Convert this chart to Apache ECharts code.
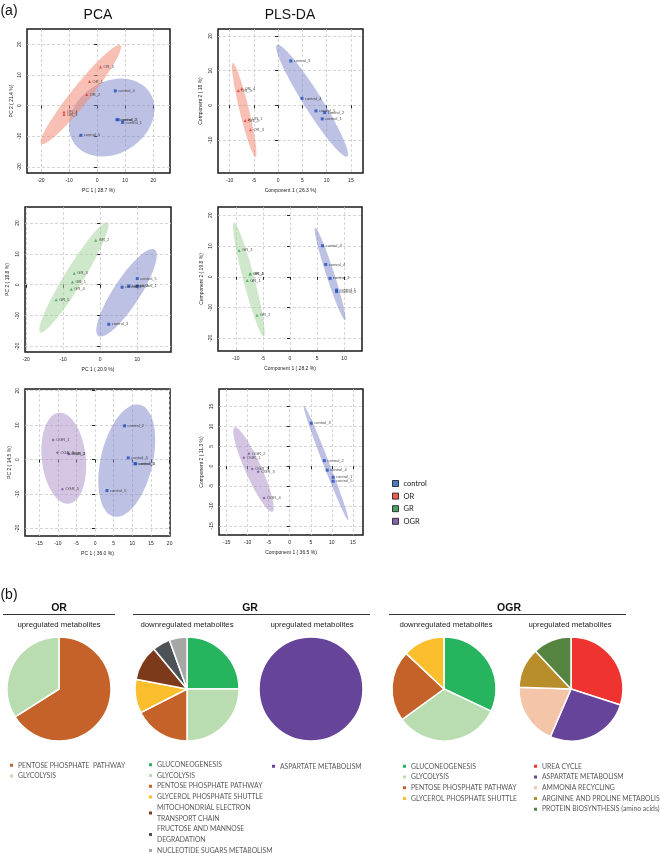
<!DOCTYPE html>
<html><head><meta charset="utf-8">
<script src="https://cdn.jsdelivr.net/npm/echarts@6/dist/echarts.min.js"></script>
<style>html,body{margin:0;padding:0;background:#fff}#c{width:660px;height:854px}</style>
</head><body><div id="c"></div>
<script>
// ===== (a) score plots: [x, y, label] =====
const pca1Control = [[9.1,-5.5,'control_1'],[7.1,-4.6,'control_2'],[7.5,-4.6,'control_3'],[6.5,4.8,'control_4'],[-5.8,-9.7,'control_5']];
const pca1OR = [[-2.7,7.9,'OR_1'],[-3.7,3.6,'OR_2'],[-11.8,-2.9,'OR_3'],[-11.8,-2.1,'OR_4'],[1.2,12.6,'OR_5']];
const pls1Control = [[9.1,-3.9,'control_1'],[9.6,-2.1,'control_2'],[2.6,12.8,'control_3'],[4.9,2.0,'control_4'],[7.8,-1.6,'control_5']];
const pls1OR = [[-6.0,-4.0,'OR_1'],[-6.8,-4.4,'OR_2'],[-5.7,-7.0,'OR_3'],[-7.5,4.8,'OR_4'],[-8.2,4.3,'OR_5']];
const pca2Control = [[10.0,-0.5,'control_1'],[7.7,-0.4,'control_2'],[2.3,-12.8,'control_3'],[5.9,-0.8,'control_4'],[10.0,2.0,'control_5']];
const pca2GR = [[-7.5,0.9,'GR_1'],[-1.2,14.4,'GR_2'],[-7.0,3.7,'GR_3'],[-7.8,-1.5,'GR_4'],[-11.9,-4.9,'GR_5']];
const pls2Control = [[8.6,-4.3,'control_1'],[7.4,-0.5,'control_2'],[6.0,10.1,'control_3'],[6.6,4.0,'control_4'],[8.6,-4.8,'control_5']];
const pls2GR = [[-7.9,-1.2,'GR_1'],[-6.1,-12.5,'GR_2'],[-9.4,8.6,'GR_3'],[-7.4,0.9,'GR_4'],[-7.3,1.0,'GR_5']];
const pca3Control = [[10.7,-1.2,'control_1'],[7.9,9.8,'control_2'],[10.9,-1.2,'control_3'],[8.9,0.5,'control_4'],[3.2,-9.0,'control_5']];
const pca3OGR = [[-11.25,5.7,'OGR_1'],[-7.2,1.7,'OGR_2'],[-10.1,2.0,'OGR_3'],[-7.0,1.6,'OGR_4'],[-8.75,-8.6,'OGR_5']];
const pls3Control = [[10.3,-2.8,'control_1'],[8.2,1.4,'control_2'],[5.1,10.8,'control_3'],[8.9,-1.0,'control_4'],[10.3,-3.8,'control_5']];
const pls3OGR = [[-10.9,2.1,'OGR_1'],[-9.7,3.1,'OGR_2'],[-7.5,-1.4,'OGR_3'],[-6.1,-8.0,'OGR_4'],[-8.9,-0.7,'OGR_5']];

// confidence ellipses: [centerX, centerY, axis1X, axis1Y, axis2X, axis2Y] in data units
const pca1EllControl = [5.2,-3.9,13.6,8.1,6.9,-9.8];
const pca1EllOR = [-5.8,3.6,14.1,16.1,2.58,-1.9];
const pls1EllControl = [7.0,1.35,-7.24,16.1,1.58,1.38];
const pls1EllOR = [-7.0,-1.3,-2.34,13.5,0.94,0.32];
const pca2EllControl = [7.1,-2.6,7.57,14.0,3.03,-2.33];
const pca2EllGR = [-7.1,2.4,9.1,17.8,2.15,-1.57];
const pls2EllControl = [7.4,1.0,-2.76,15.0,0.7,0.4];
const pls2EllGR = [-7.6,-0.87,-2.76,18.5,1.0,0.48];
const pca3EllControl = [8.5,-0.3,3.48,16.25,6.79,-1.68];
const pca3EllOGR = [-8.4,0.4,-1.34,13.2,5.86,0.69];
const pls3EllControl = [8.6,0.85,-5.28,14.4,0.67,0.27];
const pls3EllOGR = [-8.6,-0.85,-4.48,10.6,1.75,0.83];

// tick labels
const ticksPca1X = [-20,-10,0,10,20], ticksPca1Y = [-20,-10,0,10,20];
const ticksPls1X = [-10,-5,0,5,10,15], ticksPls1Y = [-10,0,10,20];
const ticksPca2X = [-20,-10,0,10], ticksPca2Y = [-20,-10,0,10,20];
const ticksPls2X = [-10,-5,0,5,10], ticksPls2Y = [-20,-10,0,10,20];
const ticksPca3X = [-15,-10,-5,0,5,10,15,20], ticksPca3Y = [-20,-10,0,10,20];
const ticksPls3X = [-15,-10,-5,0,5,10,15], ticksPls3Y = [-15,-10,-5,0,5,10,15];

const xTitles = ['PC 1 ( 28.7 %)','Component 1 ( 26.3 %)','PC 1 ( 20.9 %)','Component 1 ( 28.2 %)','PC 1 ( 36.0 %)','Component 1 ( 36.5 %)'];
const yTitles = ['PC 2 ( 21.4 %)','Component 2 ( 18 %)','PC 2 ( 18.8 %)','Component 2 ( 19.8 %)','PC 2 ( 14.5 %)','Component 2 ( 11.3 %)'];
const groupNames = ['control','OR','GR','OGR'];

// ===== (b) pathway pies =====
const orUpNames = ['PENTOSE PHOSPHATE  PATHWAY','GLYCOLYSIS'];
const orUpValues = [66,34];
const grDownNames = ['GLUCONEOGENESIS','GLYCOLYSIS','PENTOSE PHOSPHATE PATHWAY','GLYCEROL PHOSPHATE SHUTTLE','MITOCHONDRIAL ELECTRON\nTRANSPORT CHAIN','FRUCTOSE AND MANNOSE\nDEGRADATION','NUCLEOTIDE SUGARS METABOLISM'];
const grDownValues = [25,25,17.5,10.5,11,5.5,5.5];
const grUpNames = ['ASPARTATE METABOLISM'];
const grUpValues = [100];
const ogrDownNames = ['GLUCONEOGENESIS','GLYCOLYSIS','PENTOSE PHOSPHATE PATHWAY','GLYCEROL PHOSPHATE SHUTTLE'];
const ogrDownValues = [32,33,22,13];
const ogrUpNames = ['UREA CYCLE','ASPARTATE METABOLISM','AMMONIA RECYCLING','ARGININE AND PROLINE METABOLISM','PROTEIN BIOSYNTHESIS (amino acids)'];
const ogrUpValues = [30,26.5,19,12.5,12];

// ===== styling =====
const pathwayColors = {
  'PENTOSE PHOSPHATE  PATHWAY':'#c4622a','PENTOSE PHOSPHATE PATHWAY':'#c4622a','GLYCOLYSIS':'#b9ddb1',
  'GLUCONEOGENESIS':'#27b45f','GLYCEROL PHOSPHATE SHUTTLE':'#fbbf2d',
  'MITOCHONDRIAL ELECTRON\nTRANSPORT CHAIN':'#7d3a1a','FRUCTOSE AND MANNOSE\nDEGRADATION':'#4d5256',
  'NUCLEOTIDE SUGARS METABOLISM':'#a6a6a6','ASPARTATE METABOLISM':'#65449a','UREA CYCLE':'#ef3331',
  'AMMONIA RECYCLING':'#f4c5a8','ARGININE AND PROLINE METABOLISM':'#b88e2b','PROTEIN BIOSYNTHESIS (amino acids)':'#548440'
};
const pointColors = {control:'#1f4fbf', OR:'#e8312f', GR:'#35a84f', OGR:'#7a4ea0'};
const pointSymbols = {control:'rect', OR:'triangle', GR:'triangle', OGR:'diamond'};
const ellColors = {control:'rgba(118,126,196,0.48)', OR:'rgba(242,140,118,0.55)', GR:'rgba(160,208,150,0.5)', OGR:'rgba(170,140,200,0.5)'};
const legendColors = {control:'#1e5bb5', OR:'#e8352c', GR:'#1a8a3c', OGR:'#6a3d9a'};

const panels = [
  {grid:{left:27,top:29,width:143,height:144}, x:[-25,26], y:[-22,25], xt:ticksPca1X, yt:ticksPca1Y, g:'OR', c:pca1Control, t:pca1OR, ec:pca1EllControl, et:pca1EllOR, yGap:13},
  {grid:{left:218,top:29,width:145,height:144}, x:[-12.4,17.5], y:[-19.5,22], xt:ticksPls1X, yt:ticksPls1Y, g:'OR', c:pls1Control, t:pls1OR, ec:pls1EllControl, et:pls1EllOR, yGap:15},
  {grid:{left:25,top:207,width:146,height:145}, x:[-20.3,19.1], y:[-21.8,25.2], xt:ticksPca2X, yt:ticksPca2Y, g:'GR', c:pca2Control, t:pca2GR, ec:pca2EllControl, et:pca2EllGR, yGap:15},
  {grid:{left:218,top:207,width:144,height:144}, x:[-13.3,13.3], y:[-24.1,22.7], xt:ticksPls2X, yt:ticksPls2Y, g:'GR', c:pls2Control, t:pls2GR, ec:pls2EllControl, et:pls2EllGR, yGap:13.5},
  {grid:{left:25,top:389,width:145,height:147}, x:[-18.8,20.1], y:[-22.2,20.5], xt:ticksPca3X, yt:ticksPca3Y, g:'OGR', c:pca3Control, t:pca3OGR, ec:pca3EllControl, et:pca3EllOGR, yGap:12.5},
  {grid:{left:219,top:389,width:144,height:146}, x:[-16.8,17.4], y:[-17.3,19.4], xt:ticksPls3X, yt:ticksPls3Y, g:'OGR', c:pls3Control, t:pls3OGR, ec:pls3EllControl, et:pls3EllOGR, yGap:14.5}
];

const FONT = '"Liberation Sans", Arial, sans-serif';
const LFONT = 'Lato, "Open Sans", sans-serif';

function ellipseItem(params, api) {
  const cx = api.value(0), cy = api.value(1), ax = api.value(2), ay = api.value(3), bx = api.value(4), by = api.value(5);
  const pts = [];
  for (let k = 0; k < 96; k++) {
    const t = 2 * Math.PI * k / 96;
    pts.push(api.coord([cx + ax * Math.cos(t) + bx * Math.sin(t), cy + ay * Math.cos(t) + by * Math.sin(t)]));
  }
  return {type:'polygon', shape:{points:pts}, style:{fill: api.visual('color')}};
}

const grids = [], xAxes = [], yAxes = [], series = [];
panels.forEach((p, i) => {
  grids.push(Object.assign({show:true, borderColor:'#1a1a1a', borderWidth:1.5, backgroundColor:'#fff'}, p.grid));
  const common = {
    gridIndex:i, type:'value', axisLine:{show:false},
    nameTextStyle:{fontSize:5, color:'#222', fontFamily:FONT},
    splitLine:{show:true, lineStyle:{type:[3,2], color:'#cccccc', width:0.8}}
  };
  xAxes.push(Object.assign({}, common, {
    min:p.x[0], max:p.x[1], name:xTitles[i], nameLocation:'middle', nameGap:15.5,
    axisTick:{show:true, length:3, lineStyle:{color:'#222'}, customValues:p.xt},
    axisLabel:{fontSize:5, color:'#222', fontFamily:FONT, margin:5, customValues:p.xt}
  }));
  yAxes.push(Object.assign({}, common, {
    min:p.y[0], max:p.y[1], name:yTitles[i], nameLocation:'middle', nameGap:p.yGap,
    axisTick:{show:true, length:3, lineStyle:{color:'#222'}, customValues:p.yt},
    axisLabel:{fontSize:5, color:'#222', fontFamily:FONT, margin:4.5, rotate:90, customValues:p.yt}
  }));
  [['control', p.ec], [p.g, p.et]].forEach(([g, e]) => {
    series.push({type:'custom', name:g+' ellipse', xAxisIndex:i, yAxisIndex:i, renderItem:ellipseItem,
      itemStyle:{color:ellColors[g]}, encode:{x:0, y:1}, data:[e], z:1, silent:true});
  });
  [['control', p.c], [p.g, p.t]].forEach(([g, d]) => {
    series.push({type:'scatter', name:g, xAxisIndex:i, yAxisIndex:i, data:d, z:3,
      symbol:pointSymbols[g], symbolSize:3, itemStyle:{color:pointColors[g]},
      label:{show:true, position:'right', distance:1.5, fontSize:4, color:'#222', fontFamily:FONT,
        formatter:(q) => q.value[2]}});
  });
});

function pieSeries(name, center, names, values) {
  return {type:'pie', name, center, radius:52, startAngle:90, clockwise:true,
    label:{show:false}, labelLine:{show:false}, silent:true,
    itemStyle:{borderColor:'#fff', borderWidth:1.5},
    data:names.map((n, k) => ({name:n, value:values[k], itemStyle:{color:pathwayColors[n]}}))};
}
series.push(pieSeries('OR up', [59, 689], orUpNames, orUpValues));
series.push(pieSeries('GR down', [187, 689], grDownNames, grDownValues));
series.push(pieSeries('GR up', [311, 689], grUpNames, grUpValues));
series.push(pieSeries('OGR down', [444, 689], ogrDownNames, ogrDownValues));
series.push(pieSeries('OGR up', [571, 689], ogrUpNames, ogrUpValues));

function pieLegend(names, left, top) {
  return {data:names, left, top, height:120, orient:'vertical', icon:'rect', itemWidth:5, itemHeight:5, itemGap:0,
    selectedMode:false, padding:0,
    textStyle:{fontSize:6.8, color:'#595959', fontFamily:LFONT, lineHeight:10.7, padding:[0,0,0,-1]}};
}

const legends = [
  {data:groupNames.map(g => ({name:g, itemStyle:{color:legendColors[g], borderColor:'#111', borderWidth:1}})),
   left:392, top:479, orient:'vertical', icon:'rect', itemWidth:6, itemHeight:6, itemGap:3.6, padding:0,
   selectedMode:false, textStyle:{fontSize:7.5, color:'#222', fontFamily:LFONT, lineHeight:9}},
  pieLegend(orUpNames, 8, 760),
  pieLegend(grDownNames, 147, 759.5),
  pieLegend(grUpNames, 270, 761),
  pieLegend(ogrDownNames, 401, 761),
  pieLegend(ogrUpNames, 532, 761)
];

const txt = (x, y, s, size, opts) => ({type:'text', x, y, silent:true,
  style:Object.assign({text:s, fontSize:size, fontFamily:FONT, fill:'#111', textAlign:'center', textVerticalAlign:'middle'}, opts || {})});
const hline = (x1, x2, y) => ({type:'line', silent:true, shape:{x1, y1:y, x2, y2:y}, style:{stroke:'#333', lineWidth:1}});

const graphics = [
  txt(9, 11, '(a)', 14),
  txt(98, 15, 'PCA', 14),
  txt(290, 15, 'PLS-DA', 14),
  txt(9, 595, '(b)', 14),
  txt(59, 608, 'OR', 10.5, {fontWeight:'bold'}),
  txt(250, 608, 'GR', 10.5, {fontWeight:'bold'}),
  txt(509, 608, 'OGR', 10.5, {fontWeight:'bold'}),
  hline(3, 115, 614.5), hline(133, 370, 614.5), hline(389, 626, 614.5),
  txt(59, 625, 'upregulated metabolites', 7.8, {fill:'#222'}),
  txt(187, 625, 'downregulated metabolites', 7.8, {fill:'#222'}),
  txt(312, 625, 'upregulated metabolites', 7.8, {fill:'#222'}),
  txt(446, 625, 'downregulated metabolites', 7.8, {fill:'#222'}),
  txt(570, 625, 'upregulated metabolites', 7.8, {fill:'#222'})
];

const chart = echarts.init(document.getElementById('c'), null, {renderer:'canvas'});
chart.setOption({
  animation:false,
  backgroundColor:'#fff',
  grid:grids, xAxis:xAxes, yAxis:yAxes, series, legend:legends, graphic:graphics
});
</script></body></html>
